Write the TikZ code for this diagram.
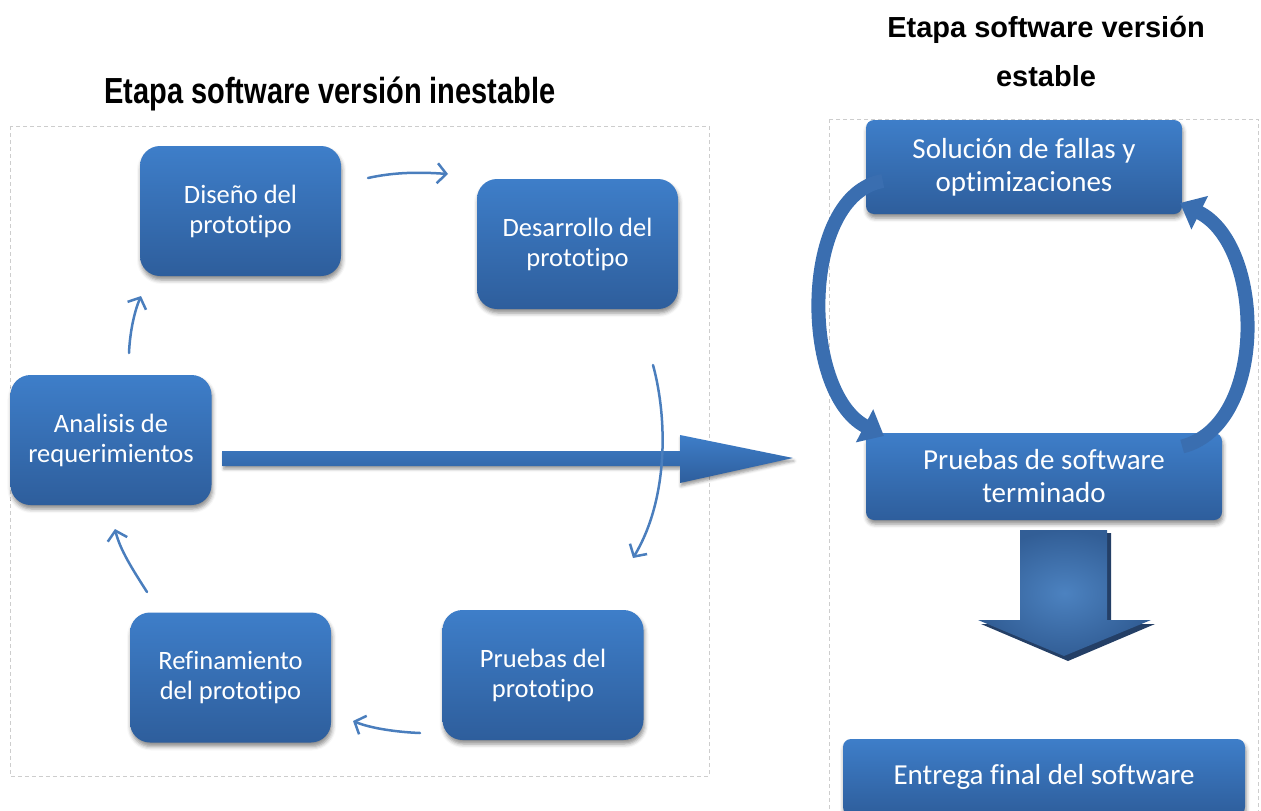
\documentclass[tikz,border=0pt]{standalone}
\usepackage{fontspec}
\setmainfont{Carlito}[Ligatures=NoCommon]
\newfontfamily\titlefont{Liberation Sans}
\usepackage{graphicx}
\usetikzlibrary{arrows.meta,shadows.blur,calc}

\definecolor{boxtop}{RGB}{62,126,201}
\definecolor{boxbot}{RGB}{46,94,156}
\definecolor{thinblue}{RGB}{74,126,189}
\definecolor{loopblue}{RGB}{58,110,176}
\definecolor{framegray}{RGB}{205,205,205}
\definecolor{dropdark}{RGB}{36,63,102}
\definecolor{dropin}{RGB}{76,130,192}
\definecolor{dropout}{RGB}{50,94,150}

\tikzset{
  stage/.style={rounded corners=20pt, top color=boxtop, bottom color=boxbot,
    text=white, align=center, font=\fontsize{26.5}{30}\selectfont,
    minimum width=201pt, minimum height=130pt, inner sep=0pt,
    blur shadow={shadow xshift=1pt, shadow yshift=-4pt, shadow blur radius=4pt, shadow opacity=45}},
  wide/.style={stage, rounded corners=8pt, font=\fontsize{29}{33}\selectfont},
  flow/.style={draw=thinblue, line width=2.5pt, line cap=round,
    -{Straight Barb[length=9pt,width=20pt,line width=2.5pt]}},
  cycle/.style={draw=loopblue, line width=14pt, -{Triangle[length=22pt,width=36pt]}},
  panel/.style={draw=framegray, dash pattern=on 4pt off 3pt, line width=0.8pt},
  heading/.style={font=\titlefont\bfseries\fontsize{29}{49}\selectfont, align=center, inner sep=0pt},
}

\begin{document}
\begin{tikzpicture}[x=1pt, y=-1pt]
\useasboundingbox (0,0) rectangle (1261,811);
\clip (0,0) rectangle (1261,811);

% stage frames
\draw[panel] (10,126) rectangle (709,776);
\draw[panel] (829,119) rectangle (1258,840);

% headings
\node[heading] (unstable) at (330,94) {\scalebox{1}[1.25]{Etapa software versión inestable}};
\node[heading] (stable) at (1046,52) {Etapa software versión\\estable};

% unstable cycle
\node[stage] (analisis) at (111,440) {Analisis de\\requerimientos};
\node[stage] (diseno) at (240.5,211) {Diseño del\\prototipo};
\node[stage] (desarrollo) at (577.5,244) {Desarrollo del\\prototipo};
\node[stage] (pruebas) at (543,675) {Pruebas del\\prototipo};
\node[stage] (refinamiento) at (230.5,677.5) {Refinamiento\\del prototipo};

% hand-off arrow to the stable stage
\coordinate (handoff) at (793,458);
\path[top color=boxtop, bottom color=boxbot,
      blur shadow={shadow xshift=1pt, shadow yshift=-3pt, shadow blur radius=3pt, shadow opacity=40}]
  ($(analisis.east)+(11,11)$) -- (680,451) -- (680,435) -- (handoff) -- (680,483) -- (680,466)
  -- ($(analisis.east)+(11,26)$) -- cycle;

% cycle arrows
\coordinate (a1) at (368,178);  \coordinate (a2) at (448,174);
\coordinate (b1) at (653,365);  \coordinate (b2) at (633,558);
\coordinate (c1) at (420,733);  \coordinate (c2) at (353,721);
\coordinate (d1) at (147,592);  \coordinate (d2) at (115,529);
\coordinate (e1) at (129,353);  \coordinate (e2) at (141,296);
\draw[flow] (a1) .. controls (395,172) and (420,172) .. (a2);
\draw[flow] (b1) .. controls (668,420) and (668,500) .. (b2);
\draw[flow] (c1) .. controls (395,732) and (370,728) .. (c2);
\draw[flow] (d1) .. controls (133,570) and (120,550) .. (d2);
\draw[flow] (e1) .. controls (130,330) and (135,310) .. (e2);

% stable stage
\node[wide, minimum width=316pt, minimum height=94pt] (solucion) at (1024,167) {Solución de fallas y\\optimizaciones};
\node[wide, minimum width=356pt, minimum height=87pt] (terminado) at (1044,476.5) {Pruebas de software\\terminado};
\node[wide, minimum width=402pt, minimum height=76pt] (entrega) at (1044,777) {Entrega final del software};

\draw[cycle] ($(solucion.west)+(17,14)$) .. controls (800,195) and (800,392) .. (884,436);
\draw[cycle] ($(terminado.east)+(-40,-30)$) .. controls (1268,425) and (1265,245) .. (1180,203);

% delivery arrow
\fill[dropdark] (1024,533) -- (1111,533) -- (1111,624) -- (1155,624) -- (1068,661) -- (981,624) -- (1024,624) -- cycle;
\path[inner color=dropin, outer color=dropout]
  (1020,530) -- (1107,530) -- (1107,620) -- (1151,620) -- (1064,656) -- (978,620) -- (1020,620) -- cycle;
\end{tikzpicture}
\end{document}
